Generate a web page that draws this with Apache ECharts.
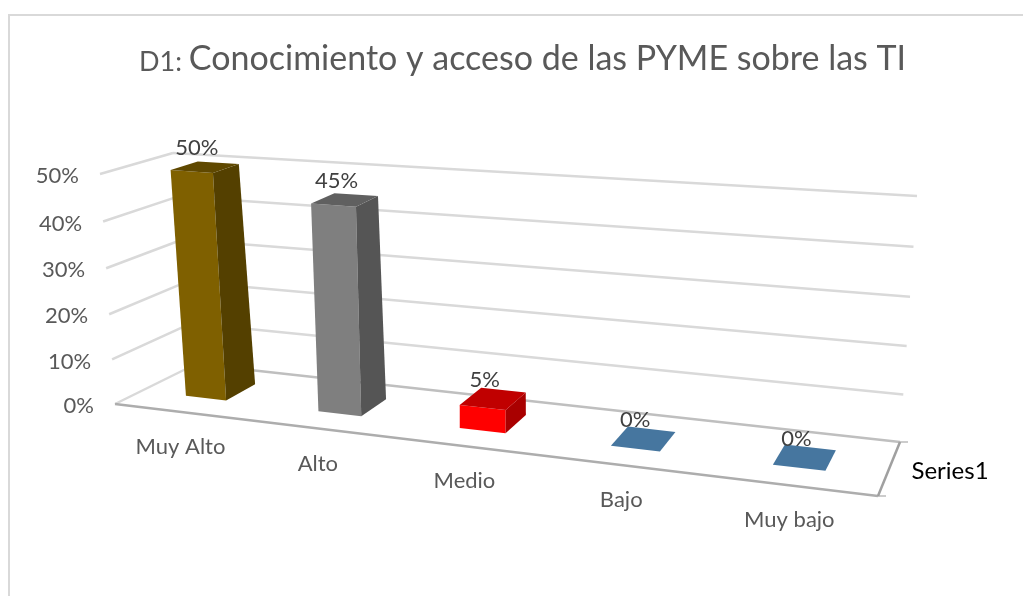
<!DOCTYPE html>
<html>
<head>
<meta charset="utf-8">
<title>D1</title>
<style>
  html, body { margin: 0; padding: 0; background: #fff; }
  #chart { width: 1023px; height: 596px; }
</style>
</head>
<body>
<div id="chart"></div>
<script src="https://cdn.jsdelivr.net/npm/echarts@6/dist/echarts.min.js"></script>
<script>
const categories = ['Muy Alto', 'Alto', 'Medio', 'Bajo', 'Muy bajo']
const values = [50, 45, 5, 0, 0]
const yTicks = [0, 10, 20, 30, 40, 50]
const seriesName = 'Series1'
const titleSmall = 'D1: '
const titleBig = 'Conocimiento y acceso de las PYME sobre las TI'

const fontName = 'Lato'
// front, side, top
const barColors = [
  ['#7f6000', '#544000', '#5f4800'],
  ['#7f7f7f', '#555555', '#606060'],
  ['#ff0000', '#a90000', '#c00000'],
  ['#46769f', '#46769f', '#46769f'],
  ['#46769f', '#46769f', '#46769f']
]

// the corners of the perspective box, measured on the picture
const floorBox = { fl: [115, 404], fr: [878, 496], bl: [196, 364], br: [900, 442] }
const topBox = { fl: [100, 174], fr: [903, 231], bl: [173, 153], br: [917, 196] }
const warpA = 0.845
const warpH = 0.96
const barWidth = 0.31
const barFront = 0.335
const barBack = 0.725

function lerp (a, b, t) {
  return [a[0] + (b[0] - a[0]) * t, a[1] + (b[1] - a[1]) * t]
}

function boxPoint (box, s, d) {
  return lerp(lerp(box.fl, box.fr, s), lerp(box.bl, box.br, s), d)
}

// s across 0-1, d depth 0-1, h height 0-1
function project (s, d, h) {
  const sw = s * warpA / (1 + (warpA - 1) * s)
  const hw = h * warpH / (1 + (warpH - 1) * h)
  return lerp(boxPoint(floorBox, sw, d), boxPoint(topBox, sw, d), hw)
}

function heightOf (api, params, v) {
  const cs = params.coordSys
  return 1 - (api.coord([0, v])[1] - cs.y) / cs.height
}

function textEl (str, p, fill, align, size) {
  return {
    type: 'text',
    x: p[0],
    y: p[1],
    style: {
      text: str,
      fill: fill,
      font: (size || 22) + 'px ' + fontName,
      textAlign: align || 'center',
      textVerticalAlign: 'middle'
    }
  }
}

function lineEl (points, color, width) {
  return {
    type: 'polyline',
    shape: { points: points },
    style: { stroke: color, lineWidth: width, fill: null }
  }
}

function renderWall (params, api) {
  const v = api.value(0)
  const h = heightOf(api, params, v)
  const a = project(0, 0, h)
  const b = project(0, 1, h)
  const c = project(1, 1, h)
  const children = [
    lineEl([a, b], '#d9d9d9', 2.5),
    lineEl([b, c], v === 0 ? '#bfbfbf' : '#d9d9d9', 2.5),
    textEl(v + '%', [a[0] - 21, a[1] + 2], '#595959', 'right')
  ]
  return { type: 'group', children: children }
}

function renderFloor (params, api) {
  const a = project(0, 0, 0)
  const b = project(1, 0, 0)
  const c = project(1, 1, 0)
  const children = [
    lineEl([a, b], '#adadad', 2.5),
    lineEl([b, c], '#a0a0a0', 2.5),
    lineEl([b, [b[0] + 8, b[1]]], '#999999', 1),
    lineEl([c, [c[0] + 8, c[1]]], '#999999', 1),
    textEl(seriesName, [950, 471], '#000', 'center', 24)
  ]
  return { type: 'group', children: children }
}

function renderLabel (params, api) {
  const cs = params.coordSys
  const i = api.value(0)
  const s = (api.coord([i, 0])[0] - cs.x) / cs.width
  const p = project(s, 0, 0)
  return textEl(categories[i], [p[0], p[1] + 35], '#595959')
}

function renderBar (params, api) {
  const cs = params.coordSys
  const i = api.value(0)
  const v = api.value(1)
  const s = (api.coord([i, v])[0] - cs.x) / cs.width
  const half = api.size([1, 0])[0] / cs.width * barWidth / 2
  const h = heightOf(api, params, v)
  const l = s - half
  const r = s + half
  const colors = barColors[i]
  const top = [project(l, barFront, h), project(r, barFront, h), project(r, barBack, h), project(l, barBack, h)]
  const children = []
  if (v > 0) {
    children.push({
      type: 'polygon',
      shape: { points: [project(l, barFront, 0), project(r, barFront, 0), top[1], top[0]] },
      style: { fill: colors[0] }
    })
    children.push({
      type: 'polygon',
      shape: { points: [project(r, barFront, 0), project(r, barBack, 0), top[2], top[1]] },
      style: { fill: colors[1] }
    })
  }
  children.push({ type: 'polygon', shape: { points: top }, style: { fill: colors[2] } })
  const cx = (top[0][0] + top[2][0]) / 2
  const cy = (top[0][1] + top[2][1]) / 2
  children.push(textEl(v + '%', [cx - 8, cy - 19], '#404040'))
  return { type: 'group', children: children }
}

const myChart = echarts.init(document.getElementById('chart'))
myChart.setOption({
  animation: false,
  backgroundColor: '#fff',
  title: {
    text: '{a|' + titleSmall + '}{b|' + titleBig + '}',
    left: 139,
    top: 42,
    padding: 0,
    textStyle: {
      rich: {
        a: { fontFamily: fontName, fontSize: 27, fontWeight: 'normal', color: '#595959', verticalAlign: 'bottom' },
        b: { fontFamily: fontName, fontSize: 34, fontWeight: 'normal', color: '#595959', verticalAlign: 'bottom' }
      }
    }
  },
  tooltip: { show: false },
  graphic: [{
    type: 'rect',
    shape: { x: 9, y: 15, width: 1030, height: 600 },
    style: { fill: null, stroke: '#d9d9d9', lineWidth: 2 },
    silent: true
  }],
  grid: { left: 100, right: 100, top: 100, bottom: 100 },
  xAxis: { type: 'category', data: categories, show: false },
  yAxis: { type: 'value', min: 0, max: 50, interval: 10, show: false },
  series: [
    {
      type: 'custom',
      name: 'walls',
      coordinateSystem: 'cartesian2d',
      clip: false,
      silent: true,
      z: 1,
      encode: { y: 0 },
      data: yTicks.map(v => [v]),
      renderItem: renderWall
    },
    {
      type: 'custom',
      name: 'floor',
      coordinateSystem: 'cartesian2d',
      clip: false,
      silent: true,
      z: 2,
      data: [[0, 0]],
      renderItem: renderFloor
    },
    {
      type: 'custom',
      name: 'labels',
      coordinateSystem: 'cartesian2d',
      clip: false,
      silent: true,
      z: 2,
      data: categories.map((c, i) => [i, 0]),
      renderItem: renderLabel
    },
    {
      type: 'custom',
      name: seriesName,
      coordinateSystem: 'cartesian2d',
      clip: false,
      z: 3,
      data: values.map((v, i) => [i, v]),
      renderItem: renderBar
    }
  ]
})
</script>
</body>
</html>
